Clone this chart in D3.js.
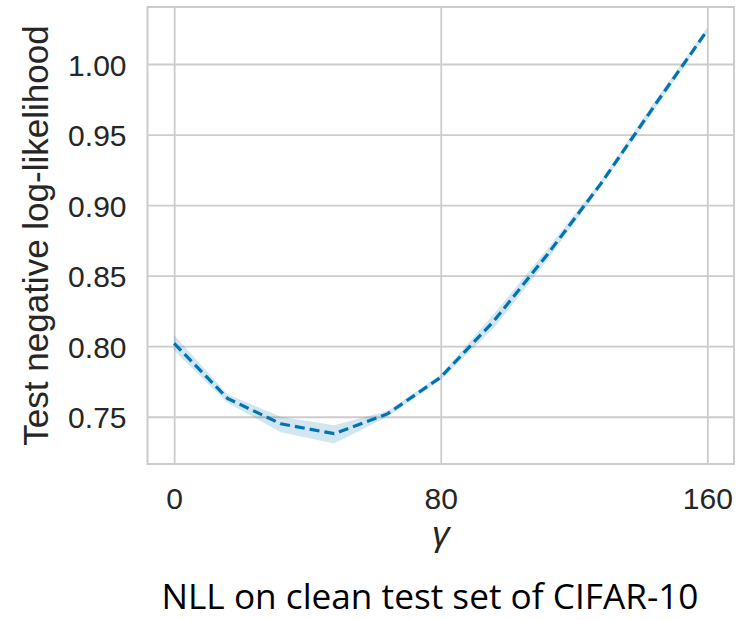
<!DOCTYPE html>
<html>
<head>
<meta charset="utf-8">
<script src="https://cdn.jsdelivr.net/npm/d3@7"></script>
<style>
  html, body { margin: 0; padding: 0; background: #fff; }
  svg { display: block; }
</style>
</head>
<body>
<div id="chart"></div>
<script>
// γ values and test NLL (mean with confidence band)
const gammaValues = [0, 16, 32, 48, 64, 80, 96, 112, 128, 144, 160];
const nllMean  = [0.802, 0.763, 0.745, 0.738, 0.752, 0.778, 0.818, 0.865, 0.915, 0.970, 1.024];
const nllLower = [0.797, 0.760, 0.739, 0.731, 0.750, 0.776, 0.813, 0.861, 0.913, 0.967, 1.022];
const nllUpper = [0.808, 0.766, 0.750, 0.744, 0.754, 0.780, 0.823, 0.869, 0.917, 0.973, 1.026];
const xTicks = [0, 80, 160];
const yTicks = [0.75, 0.80, 0.85, 0.90, 0.95, 1.00];

const W = 744, H = 620;
const plotLeft = 147.5, plotRight = 734, plotTop = 7, plotBottom = 464;
const blue = "#0173B2";
const textColor = "#262626";
const gridColor = "#cccccc";

const svg = d3.select("#chart").append("svg")
  .attr("width", W).attr("height", H);

const x = d3.scaleLinear().domain([-8, 168]).range([plotLeft, plotRight]);
const y = d3.scaleLinear().domain([0.7165, 1.0404]).range([plotBottom, plotTop]);

const rows = gammaValues.map((g, i) => ({
  g, m: nllMean[i], lo: nllLower[i], hi: nllUpper[i]
}));

// grid + tick labels
const xAxis = svg.append("g")
  .attr("transform", `translate(0,${plotBottom})`)
  .call(d3.axisBottom(x).tickValues(xTicks).tickFormat(d3.format("d"))
    .tickSize(-(plotBottom - plotTop)).tickPadding(0));
xAxis.select(".domain").remove();
xAxis.selectAll(".tick line").attr("stroke", gridColor).attr("stroke-width", 1.8);
xAxis.selectAll(".tick text")
  .attr("y", 45).attr("dy", 0)
  .attr("fill", textColor)
  .style("font-family", "'Liberation Sans', Arial, sans-serif")
  .style("font-size", "30px");

const yAxis = svg.append("g")
  .attr("transform", `translate(${plotLeft},0)`)
  .call(d3.axisLeft(y).tickValues(yTicks).tickFormat(d3.format(".2f"))
    .tickSize(-(plotRight - plotLeft)).tickPadding(0));
yAxis.select(".domain").remove();
yAxis.selectAll(".tick line").attr("stroke", gridColor).attr("stroke-width", 1.8);
yAxis.selectAll(".tick text")
  .attr("x", -21).attr("dy", 11)
  .attr("fill", textColor)
  .style("font-family", "'Liberation Sans', Arial, sans-serif")
  .style("font-size", "30px");

// frame
svg.append("rect")
  .attr("x", plotLeft).attr("y", plotTop)
  .attr("width", plotRight - plotLeft).attr("height", plotBottom - plotTop)
  .attr("fill", "none").attr("stroke", gridColor).attr("stroke-width", 2);

// confidence band
svg.append("path")
  .datum(rows)
  .attr("d", d3.area().x(d => x(d.g)).y0(d => y(d.lo)).y1(d => y(d.hi)))
  .attr("fill", blue).attr("fill-opacity", 0.18);

// mean line
svg.append("path")
  .datum(rows)
  .attr("d", d3.line().x(d => x(d.g)).y(d => y(d.m)))
  .attr("fill", "none").attr("stroke", blue)
  .attr("stroke-width", 3.2).attr("stroke-dasharray", "10,5");

// axis labels
svg.append("text")
  .attr("transform", `translate(48,${(plotTop + plotBottom) / 2}) rotate(-90)`)
  .attr("text-anchor", "middle")
  .attr("fill", textColor)
  .style("font-family", "'Liberation Sans', Arial, sans-serif")
  .style("font-size", "35px")
  .text("Test negative log-likelihood");

svg.append("text")
  .attr("x", x(80)).attr("y", 546)
  .attr("text-anchor", "middle")
  .attr("fill", textColor)
  .style("font-family", "'Liberation Sans', Arial, sans-serif")
  .style("font-style", "italic")
  .style("font-size", "35px")
  .text("γ");

// caption
svg.append("text")
  .attr("x", 430).attr("y", 609)
  .attr("text-anchor", "middle")
  .attr("fill", "#000")
  .attr("textLength", 537).attr("lengthAdjust", "spacingAndGlyphs")
  .style("font-family", "'Open Sans', 'Noto Sans', sans-serif")
  .style("font-size", "35px")
  .text("NLL on clean test set of CIFAR-10");
</script>
</body>
</html>
